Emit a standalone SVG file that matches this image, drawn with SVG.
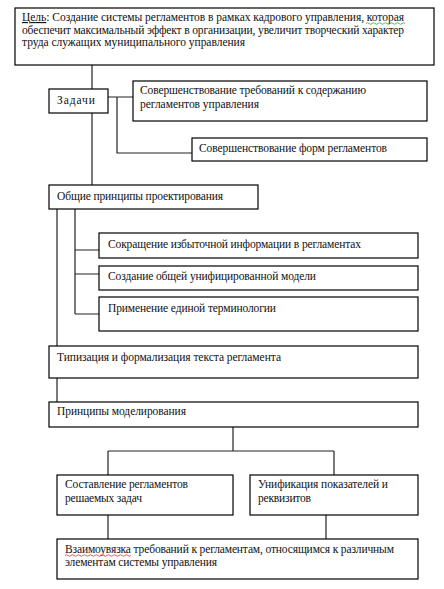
<svg xmlns="http://www.w3.org/2000/svg" width="444" height="589" viewBox="0 0 444 589">
<style>
.b{fill:#fff;stroke:#000;stroke-width:1.2}
.c{fill:none;stroke:#222;stroke-width:1.2}
text{font-family:'Liberation Serif','Times New Roman','DejaVu Serif','Noto Serif',serif;font-size:11.5px;fill:#111}
.w{fill:none;stroke-width:0.8}
</style>
<rect width="444" height="589" fill="#fff"/>
<g id="connectors">
<path class="c" d="M92 65V89M92 113V185"/>
<path class="c" d="M108 97H133M117 97V153H192"/>
<path class="c" d="M57 209V346M57 378V402"/>
<path class="c" d="M75 209V314M75 250H99M75 274H99M75 314H99"/>
<path class="c" d="M233 427V451M108 451H334M108 451V475M334 451V475"/>
<path class="c" d="M108 515V539M326 515V539"/>
</g>
<g id="goal">
<rect class="b" x="15" y="8" width="419" height="57"/>
<text x="22" y="21" textLength="382"><tspan text-decoration="underline">Цель</tspan>: Создание системы  регламентов в рамках кадрового управления, которая</text>
<text x="22" y="33.5" textLength="382">обеспечит максимальный эффект в организации, увеличит творческий характер</text>
<text x="22" y="46" textLength="223">труда служащих муниципального управления</text>
<path class="w" stroke="#3a3" d="M366 23.5q1.5-1.5 3 0t3 0 3 0 3 0 3 0 3 0 3 0 3 0 3 0 3 0 3 0 3 0 3 0"/>
</g>
<g id="tasks">
<rect class="b" x="49" y="89" width="59" height="24"/>
<text x="57" y="104" textLength="38">Задачи</text>
</g>
<g id="task1">
<rect class="b" x="133" y="81" width="294" height="40"/>
<text x="140" y="94" textLength="226">Совершенствование требований к содержанию</text>
<text x="140" y="108" textLength="119">регламентов управления</text>
</g>
<g id="task2">
<rect class="b" x="192" y="138" width="235" height="23"/>
<text x="199" y="152" textLength="188">Совершенствование форм регламентов</text>
</g>
<g id="design">
<rect class="b" x="49" y="185" width="209" height="24"/>
<text x="57" y="200" textLength="166">Общие принципы проектирования</text>
</g>
<g id="d1">
<rect class="b" x="99" y="233" width="319" height="25"/>
<text x="108" y="248" textLength="253">Сокращение избыточной информации в регламентах</text>
</g>
<g id="d2">
<rect class="b" x="99" y="266" width="319" height="24"/>
<text x="108" y="280" textLength="208">Создание  общей унифицированной модели</text>
</g>
<g id="d3">
<rect class="b" x="99" y="297" width="319" height="34"/>
<text x="108" y="312" textLength="168">Применение единой терминологии</text>
</g>
<g id="typing">
<rect class="b" x="49" y="346" width="369" height="32"/>
<text x="57" y="361" textLength="224">Типизация  и формализация текста регламента</text>
</g>
<g id="modeling">
<rect class="b" x="49" y="402" width="369" height="25"/>
<text x="57" y="415" textLength="129">Принципы моделирования</text>
</g>
<g id="m1">
<rect class="b" x="57" y="475" width="176" height="40"/>
<text x="65" y="488" textLength="123">Составление регламентов</text>
<text x="65" y="502" textLength="77">решаемых задач</text>
</g>
<g id="m2">
<rect class="b" x="250" y="475" width="168" height="40"/>
<text x="258" y="488" textLength="130">Унификация показателей и</text>
<text x="258" y="502" textLength="53">реквизитов</text>
</g>
<g id="link">
<rect class="b" x="57" y="539" width="361" height="40"/>
<text x="65" y="553" textLength="329">Взаимоувязка  требований к регламентам, относящимся к различным</text>
<text x="65" y="566" textLength="152">элементам системы управления</text>
<path class="w" stroke="#d33" d="M65 555.5q1.5-1.5 3 0t3 0 3 0 3 0 3 0 3 0 3 0 3 0 3 0 3 0 3 0 3 0 3 0 3 0 3 0 3 0 3 0 3 0 3 0 3 0 3 0 3 0"/>
</g>
</svg>
